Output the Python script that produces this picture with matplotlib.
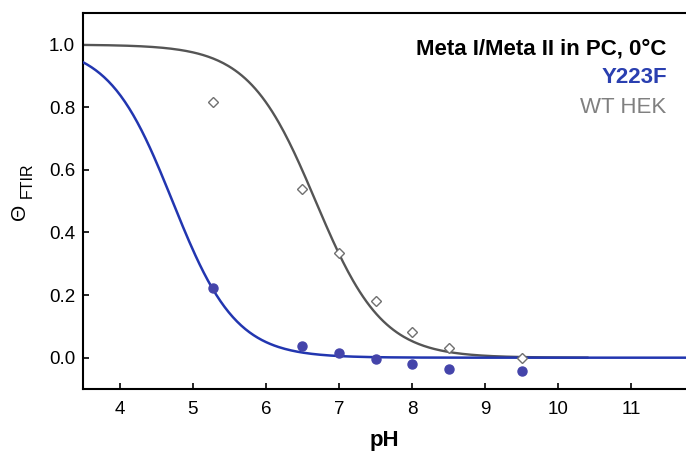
import matplotlib
matplotlib.use("Agg")
import matplotlib.pyplot as plt
import numpy as np

plt.rcParams['font.family'] = ['Liberation Sans', 'DejaVu Sans']

# measured points
ph_pts = [5.27, 6.5, 7.0, 7.5, 8.0, 8.5, 9.5]
wt_hek = [0.818, 0.539, 0.333, 0.181, 0.083, 0.032, 0.0]
y223f = [0.221, 0.037, 0.014, -0.003, -0.019, -0.037, -0.044]

# Henderson-Hasselbalch fit parameters (pK, slope) and drawn pH range
wt_fit = (6.68, 0.95)
wt_range = (3.5, 10.4)
y223f_fit = (4.72, 1.0)
y223f_range = (3.5, 12.0)

xticks = [4, 5, 6, 7, 8, 9, 10, 11]
yticks = [0.0, 0.2, 0.4, 0.6, 0.8, 1.0]


def hh(ph, pk, n):
    return 1.0 / (1.0 + 10 ** (n * (ph - pk)))


fig = plt.figure(figsize=(6.86, 4.53), dpi=100)
ax = fig.add_axes([0.1215, 0.1413, 0.8785, 0.8293])

x_wt = np.linspace(wt_range[0], wt_range[1], 300)
x_y = np.linspace(y223f_range[0], y223f_range[1], 300)
ax.plot(x_wt, hh(x_wt, *wt_fit), color='#555555', lw=1.7, zorder=2)
ax.plot(x_y, hh(x_y, *y223f_fit), color='#2236b0', lw=1.8, zorder=3)

ax.plot(ph_pts, wt_hek, linestyle='none', marker='D', markersize=5.5,
        markerfacecolor='white', markeredgecolor='#707070', markeredgewidth=1.0, zorder=4)
ax.plot(ph_pts, y223f, linestyle='none', marker='o', markersize=6.5,
        markerfacecolor='#4444aa', markeredgecolor='#4444aa', zorder=5)

ax.set_xlim(3.5, 11.75)
ax.set_ylim(-0.1, 1.1)
ax.set_xticks(xticks)
ax.set_yticks(yticks)
ax.set_yticklabels([f'{v:.1f}' for v in yticks])
ax.tick_params(direction='in', length=4, width=1.2, labelsize=13.5, colors='black')
ax.tick_params(axis='x', pad=9)
ax.tick_params(axis='y', pad=6)
ax.spines['right'].set_visible(False)
for s in ['left', 'bottom', 'top']:
    ax.spines[s].set_linewidth(1.5)

ax.set_xlabel('pH', fontsize=16, fontweight='bold', labelpad=8)
fig.text(0.029, 0.533, 'Θ', rotation=90, fontsize=15, ha='center', va='center')
fig.text(0.040, 0.602, 'FTIR', rotation=90, fontsize=11.5, ha='center', va='center')

ax.text(0.968, 0.906, 'Meta I/Meta II in PC, 0°C', transform=ax.transAxes,
        ha='right', va='center', fontsize=16, fontweight='bold', color='black')
ax.text(0.968, 0.830, 'Y223F', transform=ax.transAxes,
        ha='right', va='center', fontsize=16, fontweight='bold', color='#2a3fb0')
ax.text(0.968, 0.748, 'WT HEK', transform=ax.transAxes,
        ha='right', va='center', fontsize=16, color='#808080')

fig.savefig('out.png', dpi=100)
